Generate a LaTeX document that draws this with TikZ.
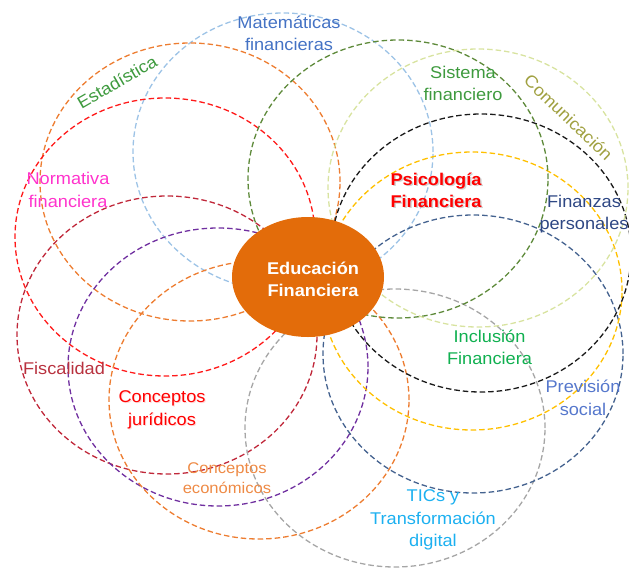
\documentclass[tikz,border=0pt]{standalone}
\usepackage{fontspec}
\setmainfont{Liberation Sans}[FakeStretch=1.07]
\usetikzlibrary{shapes.geometric}
\definecolor{cLBlue}{HTML}{9DC3E6}
\definecolor{cOrange}{HTML}{ED7D31}
\definecolor{cRed}{HTML}{FF1A1A}
\definecolor{cDRed}{HTML}{C0283A}
\definecolor{cPurple}{HTML}{7030A0}
\definecolor{cGray}{HTML}{A6A6A6}
\definecolor{cDBlue}{HTML}{44628F}
\definecolor{cYellow}{HTML}{FFC000}
\definecolor{cBlack}{HTML}{1A1A1A}
\definecolor{cOlive}{HTML}{5E8A3A}
\definecolor{cLGreen}{HTML}{D8E3A0}
\definecolor{cCenter}{HTML}{E36C0A}
\definecolor{tBlue}{HTML}{4472C4}
\definecolor{tGreen}{HTML}{3E9A3E}
\definecolor{tMagenta}{HTML}{FF33CC}
\definecolor{tFisc}{HTML}{B8323F}
\definecolor{tRed}{HTML}{FF0000}
\definecolor{tOrange}{HTML}{EE8A45}
\definecolor{tCyan}{HTML}{1CB0F0}
\definecolor{tPrev}{HTML}{5577CC}
\definecolor{tIncl}{HTML}{10B050}
\definecolor{tNavy}{HTML}{2E4784}
\definecolor{tOliveT}{HTML}{A0A040}
\begin{document}
\begin{tikzpicture}[x=1pt,y=-1pt,
  ring/.style={ellipse, draw, dash pattern=on 5.5pt off 3pt, line width=1.3pt,
    minimum width=300pt, minimum height=278pt, inner sep=0pt},
  lbl/.style={align=center, inner sep=0pt, font=\fontsize{17}{22.5}\selectfont},
  small/.style={align=center, inner sep=0pt, font=\fontsize{15.5}{20}\selectfont},
  boldlbl/.style={align=center, inner sep=0pt, font=\bfseries\fontsize{17}{22}\selectfont}]
\useasboundingbox (0,0) rectangle (629,568);
% rings
\node[ring, draw=cLBlue]  (rMat) at (283,152) {};
\node[ring, draw=cOrange] (rEst) at (190,182) {};
\node[ring, draw=cRed]    (rNor) at (165,237) {};
\node[ring, draw=cDRed]   (rFis) at (167,335) {};
\node[ring, draw=cPurple] (rJur) at (218,367) {};
\node[ring, draw=cOrange] (rEco) at (259,400) {};
\node[ring, draw=cGray]   (rTic) at (395,428) {};
\node[ring, draw=cDBlue]  (rPre) at (473,354) {};
\node[ring, draw=cYellow] (rInc) at (472,291) {};
\node[ring, draw=cBlack]  (rFin) at (481,253) {};
\node[ring, draw=cOlive]  (rSis) at (398,179) {};
\node[ring, draw=cLGreen] (rCom) at (478,188) {};
% centre
\node[ellipse, fill=cCenter, minimum width=152pt, minimum height=120pt, inner sep=0pt] (edu) at (308,277) {};
\node[boldlbl, text=white] (eduT) at (313,279) {Educación\\Financiera};
% labels
\node[lbl, text=tBlue] (tMat) at (289,33.5) {Matemáticas\\financieras};
\node[lbl, text=tGreen, rotate=30] (tEst) at (117,82) {Estadística};
\node[lbl, text=tMagenta] (tNor) at (68,190) {Normativa\\financiera};
\node[lbl, text=tGreen] (tSis) at (463,83.5) {Sistema\\financiero};
\node[lbl, text=tOliveT, rotate=-44] (tCom) at (568.5,117.5) {Comunicación};
\node[boldlbl, text=gray!45, opacity=0.8] (tPsiS) at (437.5,191.5) {Psicología\\Financiera};
\node[boldlbl, text=tRed] (tPsi) at (436,190) {Psicología\\Financiera};
\node[lbl, text=tNavy] (tFin) at (584,214) {Finanzas\\personales};
\node[lbl, text=tFisc] (tFis) at (64,368) {Fiscalidad};
\node[lbl, text=pink!60] (tJurS) at (163,411) {Conceptos\\jurídicos};
\node[lbl, text=tRed] (tJur) at (162,410) {Conceptos\\jurídicos};
\node[small, text=tOrange] (tEco) at (227,478) {Conceptos\\económicos};
\node[lbl, text=tIncl] (tInc) at (489.5,347.5) {Inclusión\\Financiera};
\node[lbl, text=tPrev] (tPre) at (583,398) {Previsión\\social};
\node[lbl, text=tCyan] (tTic) at (433,520) {TICs y\\Transformación\\digital};
\end{tikzpicture}
\end{document}
